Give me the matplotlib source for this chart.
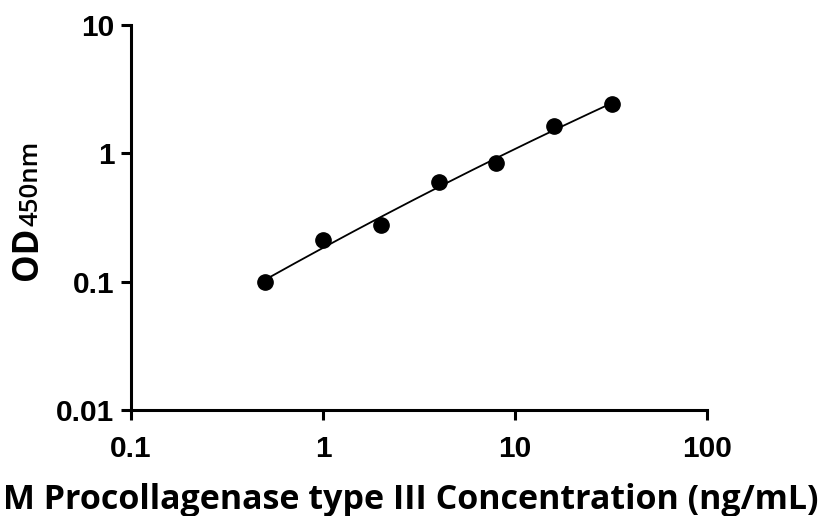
import numpy as np
import matplotlib
matplotlib.use("Agg")
from matplotlib import pyplot as plt

# standard curve data
conc = [0.5, 1, 2, 4, 8, 16, 32]
od = [0.099, 0.210, 0.277, 0.598, 0.836, 1.64, 2.41]

x_ticks = [0.1, 1, 10, 100]
x_tick_labels = ["0.1", "1", "10", "100"]
y_ticks = [0.01, 0.1, 1, 10]
y_tick_labels = ["0.01", "0.1", "1", "10"]

xlabel = "M Procollagenase type III Concentration (ng/mL)"

label_font = "Open Sans"
plt.rcParams["font.family"] = ["Liberation Sans", "DejaVu Sans"]
plt.rcParams["font.weight"] = "bold"

fig = plt.figure(figsize=(8.25, 5.16), dpi=100)
ax = fig.add_axes([131 / 825, 1 - 410 / 516, (707 - 131) / 825, (410 - 25) / 516])

# smooth fit through the points in log-log space
lx = np.log10(conc)
ly = np.log10(od)
coef = np.polyfit(lx, ly, 2)
xs = np.linspace(lx.min(), lx.max(), 200)
ax.plot(10 ** xs, 10 ** np.polyval(coef, xs), color="black", lw=1.3, zorder=2)
ax.plot(conc, od, "o", color="black", ms=11, zorder=3)

ax.set_xscale("log")
ax.set_yscale("log")
ax.set_xlim(0.1, 100)
ax.set_ylim(0.01, 10)
ax.set_xticks(x_ticks, x_tick_labels)
ax.set_yticks(y_ticks, y_tick_labels)
ax.minorticks_off()

for side in ["top", "right"]:
    ax.spines[side].set_visible(False)
for side in ["left", "bottom"]:
    ax.spines[side].set_linewidth(2.2)
ax.tick_params(width=2.2, length=7, color="black", labelsize=21.5)
ax.tick_params(axis="x", pad=11)
ax.tick_params(axis="y", pad=5)

fig.text(411 / 825, 1 - 500 / 516, xlabel, ha="center", va="center",
         fontfamily=label_font, fontweight="bold", fontsize=24.5)

# y label: "OD" with smaller "450nm" on the same baseline
t1 = fig.text(37 / 825, 1 - 280 / 516, "OD", rotation=90, rotation_mode="anchor",
              ha="left", va="baseline", fontfamily=label_font, fontweight="bold", fontsize=25)
fig.canvas.draw()
bb = t1.get_window_extent(fig.canvas.get_renderer())
fig.text(37 / 825, (bb.y1 + 1) / fig.bbox.height, "450nm", rotation=90, rotation_mode="anchor",
         ha="left", va="baseline", fontfamily=label_font, fontweight="semibold", fontsize=18.5)

fig.savefig("out.png", dpi=100)
